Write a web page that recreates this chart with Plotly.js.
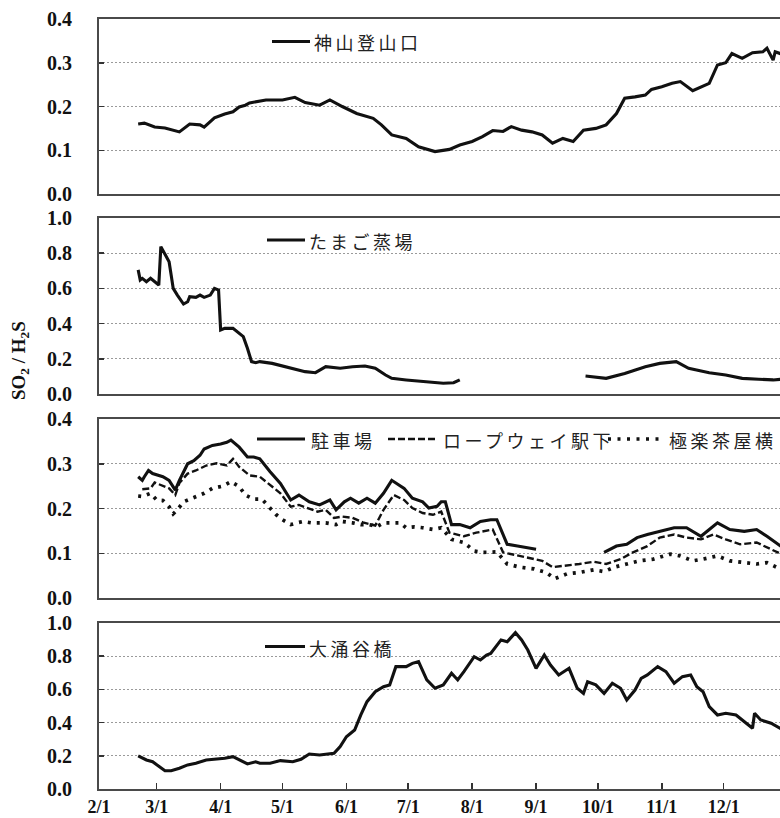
<!DOCTYPE html>
<html>
<head>
<meta charset="utf-8">
<script src="https://cdn.plot.ly/plotly-3.0.1.min.js"></script>
<style>
  html, body { margin: 0; padding: 0; background: #fff; overflow: hidden; }
  #chart { width: 780px; height: 818px; }
  /* widen the Japanese key labels a little */
  .annotation-text[style*="CJK"] { letter-spacing: 3.5px; }
</style>
</head>
<body>
<div id="chart"></div>
<script>
// ---- data: SO2 / H2S ratio per monitoring site ----
const YEAR = 2013;
const monthTicks = ['2/1','3/1','4/1','5/1','6/1','7/1','8/1','9/1','10/1','11/1','12/1'];

// 神山登山口
const kamiyamaDates = ["2/20","2/23","2/28","3/5","3/12","3/17","3/22","3/24","3/29","4/3","4/7","4/10","4/13","4/15","4/23","5/1","5/7","5/12","5/19","5/24","5/30","6/6","6/14","6/18","6/23","6/30","7/6","7/14","7/21","7/26","8/1","8/6","8/11","8/16","8/20","8/25","8/30","9/4","9/9","9/14","9/19","9/24","9/30","10/5","10/10","10/14","10/19","10/24","10/27","11/1","11/6","11/10","11/16","11/21","11/24","11/28","12/2","12/5","12/10","12/15","12/20","12/22","12/25","12/26","12/29"];
const kamiyamaRatio = [0.160,0.162,0.153,0.151,0.142,0.160,0.158,0.153,0.174,0.183,0.188,0.199,0.203,0.208,0.215,0.215,0.221,0.209,0.203,0.215,0.200,0.184,0.173,0.158,0.135,0.127,0.108,0.097,0.102,0.112,0.120,0.131,0.145,0.143,0.154,0.146,0.142,0.135,0.116,0.127,0.120,0.146,0.150,0.158,0.184,0.219,0.222,0.226,0.239,0.245,0.253,0.257,0.236,0.247,0.253,0.295,0.300,0.321,0.310,0.323,0.325,0.333,0.306,0.325,0.320];

// たまご蒸場
const tamagoDates = ["2/20","2/21","2/22","2/24","2/26","2/28","3/2","3/3","3/5","3/7","3/8","3/9","3/11","3/14","3/16","3/17","3/20","3/22","3/24","3/27","3/29","3/31","4/1","4/3","4/7","4/10","4/12","4/14","4/16","4/18","4/20","4/26","5/6","5/12","5/17","5/22","5/29","6/4","6/10","6/15","6/20","6/23","6/30","7/6","7/13","7/18","7/23","7/26","8/25","9/25","10/5","10/14","10/24","10/31","11/8","11/14","11/24","12/2","12/10","12/18","12/25","12/29"];
const tamagoRatio = [0.705,0.648,0.657,0.638,0.657,0.638,0.619,0.837,0.790,0.752,0.676,0.600,0.562,0.511,0.524,0.553,0.549,0.562,0.549,0.562,0.600,0.590,0.364,0.373,0.373,0.348,0.326,0.260,0.184,0.178,0.184,0.174,0.146,0.127,0.121,0.155,0.146,0.155,0.159,0.146,0.108,0.089,0.080,0.074,0.064,0.061,0.064,0.080,null,0.102,0.089,0.117,0.155,0.174,0.184,0.146,0.121,0.108,0.089,0.084,0.080,0.084];

// 駐車場
const parkingDates = ["2/20","2/22","2/23","2/25","2/27","3/2","3/4","3/7","3/10","3/12","3/16","3/19","3/22","3/24","3/28","4/1","4/4","4/6","4/10","4/14","4/17","4/20","4/25","4/30","5/5","5/9","5/14","5/19","5/24","5/27","5/31","6/3","6/7","6/11","6/15","6/19","6/23","6/29","7/3","7/8","7/11","7/15","7/17","7/19","7/22","7/26","7/31","8/5","8/10","8/13","8/18","8/23","8/27","9/1","9/15","10/4","10/10","10/15","10/20","10/25","10/31","11/7","11/13","11/20","11/28","12/4","12/11","12/17","12/22","12/27","12/29"];
const parkingRatio = [0.271,0.263,0.271,0.285,0.278,0.274,0.271,0.263,0.241,0.263,0.300,0.307,0.319,0.333,0.341,0.344,0.348,0.353,0.337,0.315,0.315,0.311,0.282,0.256,0.219,0.230,0.215,0.208,0.219,0.197,0.215,0.223,0.212,0.223,0.212,0.234,0.263,0.245,0.223,0.215,0.201,0.205,0.215,0.215,0.164,0.164,0.157,0.171,0.175,0.175,0.120,0.116,0.113,0.109,null,0.102,0.116,0.120,0.135,0.142,0.149,0.157,0.157,0.138,0.168,0.153,0.149,0.153,0.138,0.120,0.115];

// ロープウェイ駅下
const ropewayDates = ["2/22","2/26","2/28","3/7","3/10","3/12","3/16","3/20","3/25","3/30","4/4","4/7","4/10","4/15","4/20","4/25","4/30","5/5","5/9","5/18","5/22","5/26","5/30","6/4","6/9","6/15","6/19","6/24","6/29","7/3","7/8","7/13","7/17","7/21","7/28","8/3","8/11","8/16","8/24","8/31","9/4","9/9","9/16","9/22","9/29","10/5","10/12","10/18","10/25","10/31","11/7","11/13","11/20","11/26","12/2","12/9","12/17","12/22","12/27","12/29"];
const ropewayRatio = [0.243,0.245,0.258,0.245,0.230,0.257,0.278,0.285,0.296,0.301,0.296,0.311,0.293,0.274,0.271,0.252,0.234,0.204,0.208,0.193,0.197,0.179,0.182,0.179,0.169,0.162,0.197,0.230,0.219,0.201,0.190,0.186,0.193,0.146,0.138,0.146,0.153,0.102,0.094,0.087,0.083,0.069,0.072,0.076,0.081,0.076,0.087,0.102,0.116,0.135,0.142,0.135,0.131,0.142,0.131,0.120,0.124,0.113,0.102,0.098];

// 極楽茶屋横
const gokurakuDates = ["2/20","2/22","2/26","3/1","3/4","3/7","3/9","3/11","3/14","3/17","3/20","3/24","3/28","4/2","4/6","4/10","4/13","4/17","4/21","4/25","4/28","5/1","5/5","5/8","5/11","5/15","5/19","5/22","5/27","5/30","6/4","6/8","6/12","6/16","6/19","6/24","6/27","6/30","7/4","7/8","7/13","7/17","7/22","7/28","8/2","8/6","8/13","8/18","8/24","8/31","9/6","9/10","9/16","9/22","9/29","10/4","10/9","10/15","10/21","10/28","11/5","11/10","11/16","11/21","11/28","12/4","12/11","12/17","12/22","12/27","12/29"];
const gokurakuRatio = [0.228,0.227,0.234,0.219,0.218,0.204,0.188,0.197,0.215,0.221,0.225,0.234,0.245,0.250,0.260,0.249,0.230,0.221,0.221,0.201,0.186,0.175,0.164,0.168,0.171,0.168,0.168,0.168,0.164,0.171,0.168,0.164,0.164,0.160,0.168,0.168,0.168,0.157,0.159,0.157,0.153,0.157,0.131,0.124,0.105,0.102,0.103,0.076,0.069,0.065,0.057,0.043,0.054,0.057,0.063,0.059,0.069,0.076,0.083,0.087,0.098,0.094,0.083,0.087,0.094,0.083,0.079,0.076,0.079,0.068,0.066];

// 大涌谷橋
const owakudaniDates = ["2/20","2/24","2/27","3/2","3/5","3/8","3/12","3/16","3/20","3/25","3/30","4/3","4/7","4/10","4/14","4/18","4/20","4/25","4/30","5/6","5/10","5/14","5/19","5/26","5/29","6/1","6/5","6/8","6/11","6/15","6/19","6/22","6/25","6/30","7/3","7/6","7/10","7/14","7/18","7/22","7/25","7/28","8/2","8/5","8/8","8/10","8/15","8/18","8/22","8/25","8/28","9/1","9/5","9/8","9/12","9/17","9/21","9/24","9/26","9/30","10/4","10/8","10/12","10/15","10/19","10/22","10/25","10/30","11/3","11/7","11/11","11/15","11/18","11/21","11/24","11/28","12/2","12/7","12/12","12/15","12/16","12/19","12/24","12/28","12/29"];
const owakudaniRatio = [0.199,0.175,0.164,0.134,0.110,0.110,0.125,0.145,0.155,0.175,0.179,0.185,0.195,0.175,0.151,0.164,0.155,0.155,0.171,0.164,0.179,0.211,0.205,0.215,0.255,0.315,0.355,0.446,0.526,0.586,0.616,0.627,0.737,0.737,0.757,0.767,0.657,0.607,0.627,0.697,0.657,0.707,0.797,0.777,0.807,0.817,0.898,0.887,0.942,0.898,0.837,0.727,0.807,0.747,0.687,0.727,0.607,0.576,0.646,0.627,0.576,0.637,0.607,0.536,0.596,0.667,0.687,0.737,0.707,0.637,0.677,0.687,0.616,0.586,0.496,0.446,0.456,0.446,0.396,0.366,0.456,0.416,0.396,0.366,0.362];

// ---- helpers ----
const iso = md => {
  const [m, d] = md.split('/');
  return `${YEAR}-${m.padStart(2, '0')}-${d.padStart(2, '0')}`;
};

const W = 780, H = 818;
const M = { l: 99, r: 0, t: 19, b: 29 };
const plotW = W - M.l - M.r, plotH = H - M.t - M.b;
const px2x = px => (px - M.l) / plotW;
const py2y = py => (H - M.b - py) / plotH;

// panel boxes, pixel rows (top, bottom)
const panelRows = [[19, 194], [218, 394], [419, 598], [623, 789]];
const domains = panelRows.map(([t, b]) => [py2y(b), py2y(t)]);

const INK = '#111';
const solid = { color: INK, width: 3.1 };
const dashed = { color: INK, width: 2.4, dash: '7px,3px' };
const dotted = { color: INK, width: 3.7, dash: '3px,6px' };

const line = (dates, vals, ax, style) => ({
  type: 'scatter', mode: 'lines',
  x: dates.map(iso), y: vals,
  xaxis: ax[0], yaxis: ax[1],
  line: style, connectgaps: false,
  hoverinfo: 'skip', showlegend: false
});

const traces = [
  line(kamiyamaDates, kamiyamaRatio, ['x', 'y'], solid),
  line(tamagoDates, tamagoRatio, ['x2', 'y2'], solid),
  line(gokurakuDates, gokurakuRatio, ['x3', 'y3'], dotted),
  line(ropewayDates, ropewayRatio, ['x3', 'y3'], dashed),
  line(parkingDates, parkingRatio, ['x3', 'y3'], solid),
  line(owakudaniDates, owakudaniRatio, ['x4', 'y4'], solid)
];

const yTickFont = { family: 'Liberation Serif, serif', size: 20, color: '#111', weight: 'bold' };
const xTickFont = { family: 'Liberation Serif, serif', size: 18, color: '#111', weight: 'bold' };
const BOX = '#4a4a4a';

const xRange = [`${YEAR}-02-01`, `${YEAR}-12-28 08:00`];
const xBase = (anchor, showLabels) => ({
  type: 'date', range: xRange, anchor,
  showline: true, mirror: true, linecolor: BOX, linewidth: 2,
  showgrid: false, zeroline: false,
  tickmode: 'array', tickvals: monthTicks.map(iso), ticktext: monthTicks,
  ticks: showLabels ? 'inside' : '', ticklen: 6, tickwidth: 1.5, tickcolor: '#333',
  showticklabels: showLabels, tickfont: xTickFont, ticklabelstandoff: 0
});
const yBase = (domain, top, step, anchor) => ({
  domain, range: [0, top], anchor,
  tickmode: 'linear', tick0: 0, dtick: step, tickformat: '.1f',
  showline: true, mirror: true, linecolor: BOX, linewidth: 2,
  showgrid: true, gridcolor: '#9a9a9a', gridwidth: 1, griddash: '2px,2px',
  zeroline: false,
  ticks: 'inside', ticklen: 5, tickwidth: 1.5, tickcolor: '#333',
  tickfont: yTickFont, ticklabelstandoff: 21
});

// legend keys: sample line + label inside each panel
const keyShapes = [];
const keyLabels = [];
function key(x0, x1, yPx, style, label, textPx) {
  keyShapes.push({
    type: 'line', xref: 'paper', yref: 'paper',
    x0: px2x(x0), x1: px2x(x1), y0: py2y(yPx), y1: py2y(yPx),
    line: { color: INK, width: style.width, dash: style.dash || 'solid' }
  });
  keyLabels.push({
    xref: 'paper', yref: 'paper', x: px2x(textPx), y: py2y(yPx + 1),
    xanchor: 'left', yanchor: 'middle', showarrow: false,
    text: label,
    font: { family: 'Noto Sans CJK JP', size: 18, color: '#222' }
  });
}
key(272, 310, 41.5, solid, '神山登山口', 312);
key(267, 305, 240, solid, 'たまご蒸場', 307);
key(257, 305, 439, solid, '駐車場', 309);
key(388, 438, 439, dashed, 'ロープウェイ駅下', 441);
key(608, 665, 439, { width: 3.6, dash: '3px,6.5px' }, '極楽茶屋横', 667);
key(265, 305, 646.5, solid, '大涌谷橋', 307);

const yTitle = {
  xref: 'paper', yref: 'paper', x: px2x(20), y: py2y(361),
  xanchor: 'center', yanchor: 'middle', showarrow: false, textangle: -90,
  text: 'SO<sub>2</sub> / H<sub>2</sub>S',
  font: { family: 'Liberation Serif, serif', size: 19, color: '#111', weight: 'bold' }
};

const layout = {
  width: W, height: H,
  margin: M,
  paper_bgcolor: '#fff', plot_bgcolor: '#fff',
  showlegend: false,
  xaxis: xBase('y', false),
  xaxis2: Object.assign(xBase('y2', false), { matches: 'x' }),
  xaxis3: Object.assign(xBase('y3', false), { matches: 'x' }),
  xaxis4: Object.assign(xBase('y4', true), { matches: 'x' }),
  yaxis: yBase(domains[0], 0.4, 0.1, 'x'),
  yaxis2: yBase(domains[1], 1.0, 0.2, 'x2'),
  yaxis3: yBase(domains[2], 0.4, 0.1, 'x3'),
  yaxis4: yBase(domains[3], 1.0, 0.2, 'x4'),
  shapes: keyShapes,
  annotations: keyLabels.concat([yTitle]),
  hovermode: false
};

Plotly.newPlot('chart', traces, layout, { staticPlot: true, displayModeBar: false });
</script>
</body>
</html>
